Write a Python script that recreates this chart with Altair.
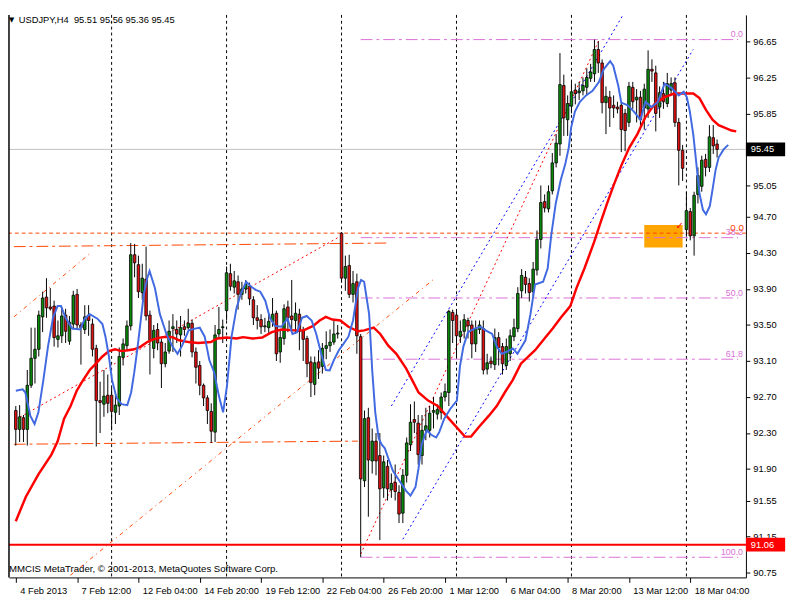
import altair as alt
import pandas as pd

FONT = "Liberation Sans"

# ---------------- candles (bar index k = 0 .. 183, H4 bars) ----------------
O = [92.55, 92.34, 92.47, 92.34, 92.83, 93.13, 93.23, 93.59, 93.81, 93.70,
     93.71, 93.34, 93.38, 93.61, 93.32, 93.51, 93.84, 93.50, 93.45, 93.61,
     93.51, 93.24, 92.66, 92.62, 92.72, 92.72, 92.53, 92.60, 93.14, 93.27,
     93.49, 94.28, 94.17, 93.86, 94.01, 93.61, 93.24, 93.45, 93.31, 93.07,
     93.21, 93.46, 93.45, 93.39, 93.48, 93.47, 93.52, 93.20, 93.05, 92.83,
     92.69, 92.54, 92.31, 93.40, 93.47, 93.66, 94.07, 93.92, 93.98, 93.84,
     93.90, 93.93, 93.78, 93.58, 93.56, 93.48, 93.47, 93.54, 93.63, 93.20,
     93.35, 93.70, 93.60, 93.55, 93.62, 93.44, 93.35, 93.09, 92.84, 93.09,
     93.04, 93.24, 93.27, 93.31, 93.40, 94.52, 94.02, 94.16, 93.84, 93.98,
     93.37, 91.77, 92.47, 91.99, 92.21, 92.05, 91.69, 91.93, 91.67, 91.75,
     91.64, 91.41, 91.83, 92.17, 92.45, 92.41, 92.05, 92.33, 92.33, 92.53,
     92.51, 92.53, 92.70, 92.75, 93.64, 93.61, 93.37, 93.43, 93.55, 93.50,
     93.29, 93.45, 93.46, 93.01, 93.10, 93.06, 93.36, 93.26, 93.05, 93.18,
     93.37, 93.46, 93.88, 94.03, 93.96, 93.87, 94.11, 94.45, 94.87, 94.79,
     94.99, 95.30, 95.51, 96.16, 95.78, 95.93, 96.11, 96.08, 96.10, 96.14,
     96.24, 96.29, 96.56, 96.41, 95.97, 96.03, 95.94, 95.92, 95.94, 95.85,
     95.75, 96.14, 96.00, 96.03, 95.91, 95.90, 96.34, 96.30, 95.92, 96.07,
     95.96, 96.11, 96.19, 95.75, 95.44, 94.56, 94.76, 94.49, 94.95, 95.04,
     95.34, 95.25, 95.58, 95.51]
H = [92.60, 92.61, 92.50, 93.00, 93.47, 93.47, 93.66, 93.87, 94.02, 93.91,
     93.77, 93.55, 93.70, 93.68, 93.60, 93.88, 93.90, 93.53, 93.72, 93.72,
     93.57, 93.28, 92.87, 93.00, 92.95, 92.80, 92.75, 93.25, 93.35, 93.55,
     94.41, 94.40, 94.27, 94.18, 94.37, 93.66, 93.50, 93.52, 93.35, 93.30,
     93.55, 93.62, 93.55, 93.60, 93.55, 93.68, 93.56, 93.25, 93.10, 92.85,
     92.72, 92.63, 93.50, 93.70, 93.56, 94.15, 94.18, 94.10, 94.05, 93.98,
     94.00, 93.97, 93.82, 93.72, 93.62, 93.58, 93.62, 93.80, 93.66, 93.45,
     93.73, 93.77, 94.00, 93.75, 93.68, 93.48, 93.38, 93.15, 93.15, 93.22,
     93.30, 93.43, 93.45, 93.55, 93.50, 94.53, 94.27, 94.28, 94.10, 94.07,
     93.40, 92.55, 92.58, 92.35, 92.30, 92.30, 92.05, 92.00, 91.85, 91.95,
     91.72, 91.90, 92.25, 92.62, 92.65, 92.50, 92.50, 92.58, 92.60, 92.70,
     92.62, 92.75, 92.85, 93.67, 93.67, 93.65, 93.55, 93.62, 93.58, 93.55,
     93.55, 93.55, 93.55, 93.18, 93.15, 93.46, 93.42, 93.30, 93.35, 93.45,
     93.57, 93.92, 94.12, 94.10, 94.02, 94.20, 94.55, 95.05, 94.95, 95.05,
     95.41, 95.62, 96.52, 96.28, 96.05, 96.20, 96.18, 96.20, 96.25, 96.35,
     96.40, 96.67, 96.65, 96.45, 96.15, 96.10, 96.05, 95.98, 95.97, 95.90,
     96.20, 96.20, 96.12, 96.10, 96.18, 96.55, 96.45, 96.38, 96.15, 96.20,
     96.30, 96.25, 96.25, 95.80, 95.50, 94.98, 94.80, 94.98, 95.25, 95.38,
     95.40, 95.72, 95.72, 95.56]
L = [92.16, 92.20, 92.20, 92.16, 92.80, 92.85, 93.15, 93.42, 93.58, 93.66,
     93.26, 93.25, 93.30, 93.30, 93.28, 93.45, 93.45, 93.06, 93.40, 93.38,
     93.15, 92.15, 92.30, 92.48, 92.52, 92.33, 92.40, 92.50, 93.05, 93.22,
     93.44, 94.03, 93.80, 93.78, 93.55, 92.95, 93.13, 93.22, 92.80, 93.03,
     93.18, 93.20, 93.30, 93.15, 93.38, 93.45, 93.14, 92.85, 92.72, 92.60,
     92.40, 92.19, 92.20, 93.35, 93.30, 93.55, 93.88, 93.85, 93.67, 93.78,
     93.85, 93.72, 93.50, 93.45, 93.40, 93.42, 93.40, 93.48, 93.10, 93.08,
     93.28, 93.42, 93.45, 93.40, 93.22, 93.10, 92.92, 92.70, 92.72, 92.90,
     92.96, 93.12, 93.20, 93.28, 93.35, 93.97, 93.88, 93.80, 93.75, 93.18,
     90.92, 91.70, 91.37, 91.85, 91.83, 91.11, 91.58, 91.55, 91.58, 91.55,
     91.30, 91.30, 91.75, 92.10, 92.30, 91.95, 91.95, 92.22, 92.25, 92.35,
     92.45, 92.45, 92.65, 92.60, 93.30, 93.15, 93.30, 93.35, 93.35, 93.13,
     93.20, 93.40, 92.95, 92.95, 93.02, 93.00, 93.05, 92.95, 93.00, 93.10,
     93.32, 93.42, 93.80, 93.85, 93.76, 93.80, 94.05, 94.35, 94.75, 94.75,
     94.95, 95.25, 95.38, 95.60, 95.60, 95.85, 95.95, 96.00, 96.05, 96.05,
     96.20, 96.20, 96.30, 95.85, 95.62, 95.70, 95.80, 95.85, 95.42, 95.43,
     95.70, 95.90, 95.75, 95.70, 95.67, 95.80, 96.20, 95.65, 95.80, 95.90,
     95.92, 96.05, 95.70, 95.05, 95.10, 94.48, 94.44, 94.27, 94.85, 94.98,
     95.15, 95.20, 95.40, 95.36]
C = [92.34, 92.48, 92.34, 92.83, 93.13, 93.23, 93.61, 93.80, 93.69, 93.68,
     93.36, 93.38, 93.60, 93.43, 93.53, 93.83, 93.50, 93.47, 93.59, 93.55,
     93.23, 92.66, 92.64, 92.71, 92.63, 92.54, 92.61, 93.15, 93.29, 93.49,
     94.28, 94.19, 93.87, 94.02, 93.60, 93.33, 93.44, 93.30, 93.07, 93.20,
     93.43, 93.48, 93.40, 93.47, 93.45, 93.52, 93.20, 93.03, 92.83, 92.69,
     92.55, 92.32, 93.39, 93.45, 93.48, 94.08, 93.93, 93.99, 93.84, 93.90,
     93.95, 93.79, 93.58, 93.55, 93.48, 93.49, 93.54, 93.62, 93.18, 93.36,
     93.68, 93.58, 93.56, 93.63, 93.43, 93.34, 93.07, 92.86, 93.08, 93.02,
     93.24, 93.27, 93.31, 93.40, 93.41, 94.02, 94.15, 93.84, 93.96, 93.38,
     91.79, 92.46, 92.00, 92.21, 91.99, 91.68, 91.98, 91.68, 91.74, 91.65,
     91.40, 91.83, 92.19, 92.42, 92.42, 92.06, 92.33, 92.38, 92.52, 92.55,
     92.56, 92.70, 92.76, 93.65, 93.55, 93.38, 93.43, 93.56, 93.49, 93.29,
     93.46, 93.50, 93.00, 93.08, 93.07, 93.36, 93.25, 93.07, 93.26, 93.38,
     93.47, 93.85, 94.05, 93.95, 93.86, 94.12, 94.45, 94.86, 94.80, 94.98,
     95.30, 95.52, 96.17, 95.80, 95.96, 96.09, 96.07, 96.10, 96.16, 96.25,
     96.31, 96.56, 96.41, 95.97, 96.04, 95.91, 95.91, 95.90, 95.67, 95.66,
     96.15, 95.98, 96.03, 95.78, 96.12, 96.34, 96.32, 95.85, 96.08, 95.98,
     96.18, 96.18, 95.75, 95.44, 95.24, 94.77, 94.49, 94.94, 95.16, 95.33,
     95.25, 95.59, 95.49, 95.45]

# ---------------- moving averages (bar position, price) ----------------
BLUE_K = [0.0, 1.8, 2.5, 3.8, 4.9, 5.9, 7.2, 8.4, 9.7, 10.9,
          11.8, 13.0, 14.7, 16.8, 18.0, 19.3, 21.3, 22.6, 23.4, 24.3,
          25.1, 26.3, 27.6, 29.1, 30.1, 30.9, 31.8, 32.6, 33.4, 34.3,
          34.9, 36.3, 37.6, 39.3, 40.9, 42.2, 43.4, 45.1, 46.8, 48.0,
          49.3, 50.5, 51.8, 53.0, 54.1, 55.1, 56.3, 57.6, 58.8, 60.1,
          61.3, 62.6, 63.8, 65.1, 66.3, 67.6, 69.3, 70.9, 72.2, 73.4,
          74.7, 75.9, 77.2, 78.4, 79.7, 80.9, 81.9, 83.0, 84.3, 85.5,
          86.8, 88.0, 89.3, 90.1, 90.9, 92.2, 93.0, 93.8, 94.7, 95.5,
          96.3, 97.2, 98.4, 100.1, 101.8, 103.0, 104.3, 105.1, 105.9, 107.2,
          108.4, 109.7, 110.5, 111.8, 113.4, 115.1, 115.9, 116.8, 118.0, 119.7,
          121.3, 122.6, 124.3, 125.5, 126.8, 128.0, 129.7, 130.9, 133.0, 134.3,
          135.5, 137.6, 138.8, 139.7, 140.9, 142.2, 143.4, 144.3, 144.9, 145.9,
          147.2, 148.8, 150.5, 152.2, 153.4, 155.1, 155.9, 157.2, 158.0, 159.7,
          161.3, 163.0, 164.3, 165.9, 167.6, 169.3, 170.9, 173.0, 174.3, 175.1,
          175.9, 176.8, 177.6, 178.4, 179.3, 180.1, 181.1, 181.8, 182.6, 183.4,
          184.7, 185.9]
BLUE_P = [92.77, 92.785, 92.75, 92.49, 92.40, 92.53, 92.89, 93.26, 93.58, 93.71,
          93.71, 93.58, 93.46, 93.45, 93.57, 93.62, 93.57, 93.51, 93.37, 93.15,
          92.89, 92.69, 92.62, 92.61, 92.75, 92.97, 93.26, 93.55, 93.84, 94.02,
          94.10, 93.91, 93.62, 93.40, 93.26, 93.18, 93.27, 93.44, 93.46, 93.47,
          93.37, 93.11, 92.97, 92.71, 92.53, 92.82, 93.37, 93.69, 93.855, 93.98,
          93.93, 93.89, 93.87, 93.77, 93.58, 93.49, 93.48, 93.57, 93.40, 93.42,
          93.58, 93.60, 93.55, 93.40, 93.18, 93.00, 92.995, 93.11, 93.22, 93.29,
          93.37, 93.55, 93.91, 94.00, 93.98, 93.62, 93.00, 92.53, 92.24, 92.17,
          92.13, 92.02, 91.88, 91.77, 91.66, 91.605, 91.70, 91.91, 92.17, 92.33,
          92.28, 92.25, 92.31, 92.46, 92.57, 92.66, 93.04, 93.26, 93.42, 93.46,
          93.48, 93.44, 93.40, 93.26, 93.18, 93.20, 93.24, 93.18, 93.33, 93.62,
          93.95, 93.98, 94.13, 94.49, 94.85, 95.11, 95.29, 95.47, 95.69, 95.87,
          95.98, 96.05, 96.10, 96.20, 96.34, 96.43, 96.38, 96.16, 95.97, 95.94,
          95.87, 95.78, 95.98, 95.92, 95.98, 96.18, 96.14, 96.05, 96.09, 96.03,
          95.87, 95.61, 95.29, 94.96, 94.78, 94.73, 94.82, 95.00, 95.22, 95.36,
          95.45, 95.50]
RED_K = [0.0, 2.6, 5.9, 9.3, 10.9, 12.6, 14.3, 15.9, 17.6, 19.3,
         20.9, 22.6, 24.3, 25.9, 27.6, 29.3, 30.9, 32.6, 34.3, 35.9,
         37.6, 39.3, 40.9, 42.6, 45.1, 47.6, 50.9, 52.6, 55.1, 57.6,
         59.3, 61.8, 64.3, 66.8, 69.3, 72.6, 75.1, 77.6, 79.3, 80.9,
         82.6, 84.7, 86.8, 89.3, 90.9, 93.4, 95.1, 97.2, 99.3, 101.8,
         103.4, 105.1, 107.6, 110.1, 112.6, 114.7, 117.2, 118.8, 120.9, 123.4,
         125.5, 127.6, 129.7, 131.8, 135.5, 137.6, 140.1, 142.2, 144.7, 146.3,
         148.4, 150.9, 152.6, 154.3, 155.9, 158.0, 160.1, 162.2, 164.3, 166.8,
         169.3, 171.8, 174.3, 176.8, 178.4, 180.1, 181.8, 183.4, 185.1, 186.8,
         188.0]
RED_P = [91.32, 91.59, 91.84, 92.06, 92.205, 92.46, 92.60, 92.77, 92.89, 93.00,
         93.07, 93.15, 93.21, 93.23, 93.21, 93.22, 93.23, 93.26, 93.31, 93.34,
         93.36, 93.37, 93.365, 93.33, 93.31, 93.30, 93.31, 93.35, 93.36, 93.35,
         93.365, 93.35, 93.36, 93.42, 93.45, 93.44, 93.44, 93.49, 93.55, 93.59,
         93.56, 93.55, 93.48, 93.43, 93.44, 93.47, 93.40, 93.27, 93.18, 93.02,
         92.89, 92.75, 92.66, 92.60, 92.48, 92.38, 92.26, 92.26, 92.37, 92.49,
         92.60, 92.75, 92.89, 93.07, 93.22, 93.33, 93.46, 93.58, 93.71, 93.91,
         94.13, 94.42, 94.64, 94.85, 95.04, 95.27, 95.47, 95.62, 95.81, 95.96,
         96.03, 96.07, 96.07, 96.07, 96.02, 95.89, 95.78, 95.72, 95.69, 95.66,
         95.65]

# ---------------- axes ----------------
X_TICKS = [0, 16, 32, 48, 64, 80, 96, 112, 128, 144, 160, 176]
X_LABELS = ["4 Feb 2013", "7 Feb 12:00", "12 Feb 04:00", "14 Feb 20:00",
            "19 Feb 12:00", "22 Feb 04:00", "26 Feb 20:00", "1 Mar 12:00",
            "6 Mar 04:00", "8 Mar 20:00", "13 Mar 12:00", "18 Mar 04:00"]
# 95.45 sits under the black last-price box, which shows that value itself
Y_TICKS = [96.65, 96.25, 95.85, 95.05, 94.70, 94.30, 93.90, 93.50,
           93.10, 92.70, 92.30, 91.90, 91.55, 91.15, 90.75]
SEPARATORS = [25, 55, 85, 115, 145, 175]   # Monday 00:00 bars

# ---------------- drawn objects ----------------
LAST_PRICE = 95.45
LOW_LEVEL = 91.06
FIB_LEVELS = ["0.0", "38.2", "50.0", "61.8", "100.0"]
FIB_PRICES = [96.67, 94.47, 93.80, 93.12, 90.92]
FIB_START, FIB_END = 90, 188.5
ORANGE_LEVEL = 94.52
ORANGE_CH_K1 = [-0.5, -0.5]
ORANGE_CH_P1 = [94.37, 92.175]
ORANGE_CH_K2 = [96.75, 89.25]
ORANGE_CH_P2 = [94.41, 92.21]
ORANGE_DIAG_K1 = [-0.5, 14.25]
ORANGE_DIAG_P1 = [93.59, 90.72]
ORANGE_DIAG_K2 = [19.25, 109.25]
ORANGE_DIAG_P2 = [94.29, 94.015]
RED_DOT_K1 = [0, 90]
RED_DOT_P1 = [92.45, 90.956]
RED_DOT_K2 = [85.5, 152.25]
RED_DOT_P2 = [94.505, 96.67]
BLUE_DOT_K1 = [98, 101]
BLUE_DOT_P1 = [92.60, 91.12]
BLUE_DOT_K2 = [159.25, 176.75]
BLUE_DOT_P2 = [97.0, 96.56]
ZONE_K = [164, 174]
ZONE_P = [94.61, 94.36]
CHECK_K, CHECK_P = 173.2, 94.60

GREEN = "#0a8a0a"
RED = "#e01010"
ORANGE = "#ff4500"
VIOLET = "#da70d6"

xs = alt.Scale(domain=[-0.5, 189.25], nice=False, zero=False)
ys = alt.Scale(domain=[90.696, 96.944], nice=False, zero=False)

label_expr = " : ".join(f"datum.value == {k} ? '{t}'" for k, t in zip(X_TICKS, X_LABELS)) + " : ''"
x_axis = alt.Axis(values=X_TICKS, labelExpr=label_expr, labelAlign="left",
                  labelBaseline="top", labelPadding=3, labelOffset=4, tickSize=5,
                  grid=False, title=None, labelOverlap=False, labelFlush=False,
                  domainColor="black", tickColor="black", labelColor="black",
                  labelFont=FONT, labelFontSize=9.5)
y_axis = alt.Axis(orient="right", values=Y_TICKS, format=".2f", labelAlign="left",
                  labelPadding=3, tickSize=4, grid=False, title=None,
                  labelOverlap=False, labelFlush=False, domainColor="black",
                  tickColor="black", labelColor="black", labelFont=FONT,
                  labelFontSize=9.5, labelBaseline="middle")


def X(f):
    return alt.X(f, type="quantitative", scale=xs, axis=x_axis)


def Y(f):
    return alt.Y(f, type="quantitative", scale=ys, axis=y_axis)


one = pd.DataFrame({"z": [0]})

candles = pd.DataFrame({"k": list(range(len(O))), "o": O, "h": H, "l": L, "c": C})
blue_df = pd.DataFrame({"k": BLUE_K, "p": BLUE_P})
red_df = pd.DataFrame({"k": RED_K, "p": RED_P})
fib_df = pd.DataFrame({"k1": [FIB_START] * len(FIB_PRICES), "k2": [FIB_END] * len(FIB_PRICES),
                       "p": FIB_PRICES, "label": FIB_LEVELS})


def seg_df(k1, p1, k2, p2):
    return pd.DataFrame({"k1": k1, "p1": p1, "k2": k2, "p2": p2})


def seg_layer(df, color, dash, width=1, clip=False):
    return alt.Chart(df).mark_rule(color=color, strokeDash=dash, strokeWidth=width, clip=clip).encode(
        x=X("k1"), y=Y("p1"), x2=alt.X2("k2"), y2=alt.Y2("p2"))


layers = []

# current price gray line
layers.append(alt.Chart(pd.DataFrame({"p": [LAST_PRICE]})).mark_rule(color="#c0c0c0", strokeWidth=1)
              .encode(y=Y("p")))
# period separators
layers.append(alt.Chart(pd.DataFrame({"k": SEPARATORS})).mark_rule(color="black", strokeDash=[3, 3], strokeWidth=1)
              .encode(x=X("k")))
# orange zone
layers.append(alt.Chart(pd.DataFrame({"k1": [ZONE_K[0]], "k2": [ZONE_K[1]], "p1": [ZONE_P[0]], "p2": [ZONE_P[1]]}))
              .mark_rect(color="#ffa500").encode(x=X("k1"), x2=alt.X2("k2"), y=Y("p1"), y2=alt.Y2("p2")))
# fibonacci lines
layers.append(alt.Chart(fib_df).mark_rule(color=VIOLET, strokeDash=[12, 4, 3, 4], strokeWidth=1)
              .encode(x=X("k1"), x2=alt.X2("k2"), y=Y("p")))
# orange horizontal level
layers.append(alt.Chart(pd.DataFrame({"p": [ORANGE_LEVEL]})).mark_rule(color=ORANGE, strokeDash=[4, 3], strokeWidth=1)
              .encode(y=Y("p")))
# orange channels
layers.append(seg_layer(seg_df(ORANGE_CH_K1, ORANGE_CH_P1, ORANGE_CH_K2, ORANGE_CH_P2), ORANGE, [12, 4, 3, 4]))
layers.append(seg_layer(seg_df(ORANGE_DIAG_K1, ORANGE_DIAG_P1, ORANGE_DIAG_K2, ORANGE_DIAG_P2), ORANGE, [4, 4, 1, 4]))
layers.append(seg_layer(seg_df(RED_DOT_K1, RED_DOT_P1, RED_DOT_K2, RED_DOT_P2), "#ff0000", [2, 3]))
layers.append(seg_layer(seg_df(BLUE_DOT_K1, BLUE_DOT_P1, BLUE_DOT_K2, BLUE_DOT_P2), "#0000ff", [2, 3], clip=True))

# candles
base = alt.Chart(candles).transform_calculate(
    hi="max(datum.h, datum.o, datum.c)",
    lo="min(datum.l, datum.o, datum.c)",
    dir="datum.c >= datum.o ? 'up' : 'down'")
layers.append(base.mark_rule(color="black", strokeWidth=1).encode(x=X("k"), y=Y("lo"), y2=alt.Y2("hi")))
layers.append(base.mark_bar(size=2.6, stroke="black", strokeWidth=0.8).encode(
    x=X("k"), y=Y("o"), y2=alt.Y2("c"),
    color=alt.Color("dir:N", scale=alt.Scale(domain=["up", "down"], range=[GREEN, RED]), legend=None)))

# low level red line
layers.append(alt.Chart(pd.DataFrame({"p": [LOW_LEVEL]})).mark_rule(color="#ff0000", strokeWidth=2)
              .encode(y=Y("p")))

# moving averages
layers.append(alt.Chart(red_df).mark_line(color="#ff0000", strokeWidth=2.5).encode(x=X("k"), y=Y("p")))
layers.append(alt.Chart(blue_df).mark_line(color="#4169e1", strokeWidth=2).encode(x=X("k"), y=Y("p")))

# fib labels
layers.append(alt.Chart(fib_df).mark_text(align="right", baseline="alphabetic", dy=-2.5, color=VIOLET,
                                          font=FONT, fontSize=9)
              .encode(x=alt.value(749), y=Y("p"), text="label:N"))
layers.append(alt.Chart(pd.DataFrame({"p": [ORANGE_LEVEL], "t": ["0.0"]}))
              .mark_text(align="right", baseline="alphabetic", dy=-2, color=ORANGE, font=FONT, fontSize=10)
              .encode(x=alt.value(750), y=Y("p"), text="t:N"))
# check mark
layers.append(alt.Chart(pd.DataFrame({"k": [CHECK_K], "p": [CHECK_P], "t": ["\u2713"]}))
              .mark_text(color="#ff0000", fontSize=10, fontWeight="bold", font="DejaVu Sans")
              .encode(x=X("k"), y=Y("p"), text="t:N"))

# price boxes on the axis
for price, col in [(LAST_PRICE, "black"), (LOW_LEVEL, "#ff0000")]:
    d = pd.DataFrame({"p": [price], "t": [f"{price:.2f}"]})
    layers.append(alt.Chart(d).mark_rule(color=col, strokeWidth=14, strokeCap="butt")
                  .encode(x=alt.value(752), x2=alt.value(792), y=Y("p")))
    layers.append(alt.Chart(d).mark_text(color="white", align="left", baseline="middle", font=FONT, fontSize=9.5)
                  .encode(x=alt.value(757), y=Y("p"), text="t:N"))

# header / footer texts
layers.append(alt.Chart(pd.DataFrame({"t": ["\u25bc"]})).mark_text(align="left", baseline="alphabetic",
                                                                   font="DejaVu Sans", fontSize=7, color="black")
              .encode(x=alt.value(0), y=alt.value(7), text="t:N"))
layers.append(alt.Chart(pd.DataFrame({"t": ["USDJPY,H4\u00a0 95.51 95.56 95.36 95.45"]}))
              .mark_text(align="left", baseline="alphabetic", font=FONT, fontSize=9.5, color="black")
              .encode(x=alt.value(10), y=alt.value(8), text="t:N"))
layers.append(alt.Chart(pd.DataFrame({"t": ["MMCIS MetaTrader, \u00a9 2001-2013, MetaQuotes Software Corp."]}))
              .mark_text(align="left", baseline="middle", font=FONT, fontSize=9.8, color="black")
              .encode(x=alt.value(0), y=alt.value(565), text="t:N"))
# left frame
layers.append(alt.Chart(one).mark_rule(color="black", strokeWidth=1.5)
              .encode(x=alt.value(0), y=alt.value(0), y2=alt.value(574)))

chart = alt.layer(*layers).properties(width=752, height=574, padding=0).configure_view(stroke=None)

chart.save("out.html", embed_options={"renderer": "svg", "actions": False})
